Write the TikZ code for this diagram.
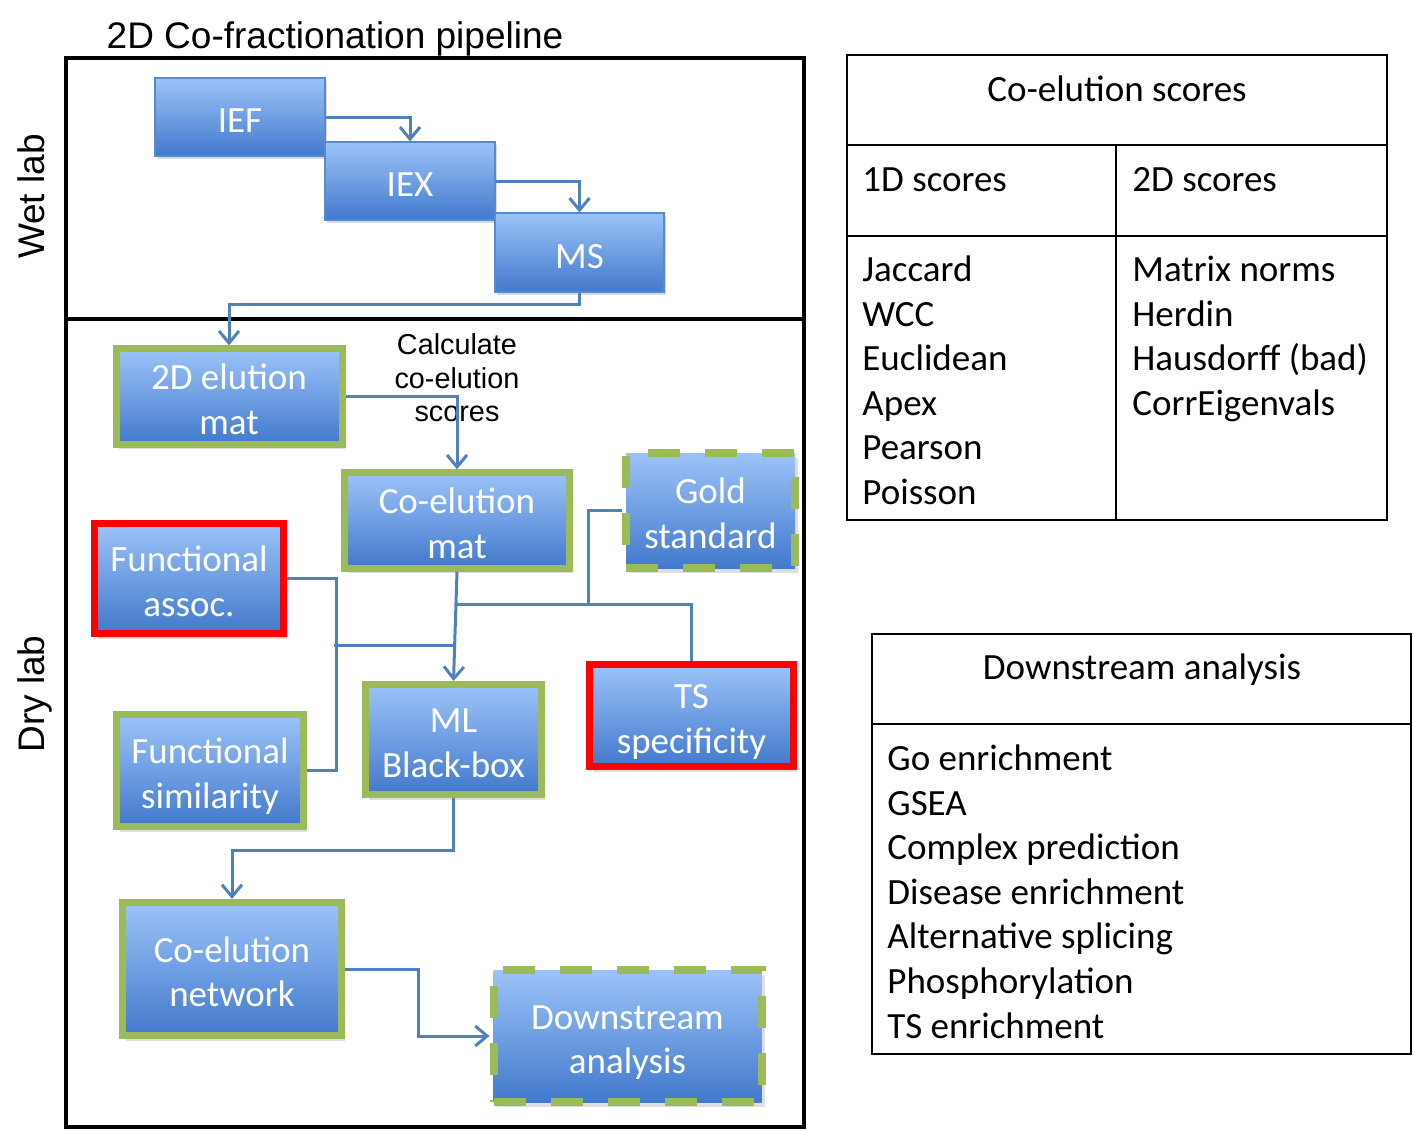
\documentclass[tikz,border=0pt]{standalone}
\usepackage{fontspec}
\setmainfont{Carlito}
\newfontfamily\arialf{Liberation Sans}
\usetikzlibrary{arrows.meta,shadows}
\definecolor{boxtop}{HTML}{9CC3F8}
\definecolor{boxbot}{HTML}{4279CC}
\definecolor{boxline}{HTML}{5A8AC8}
\definecolor{gborder}{HTML}{9BBB59}
\definecolor{rborder}{HTML}{FF0000}
\definecolor{linkblue}{HTML}{4F81BD}
\newcommand\ftop{\rule{0pt}{20.5pt}}
\tikzset{
  boxtext/.style={text=white, align=center, inner sep=0pt, font=\fontsize{18.5}{22.2}\selectfont,
     execute at end node={\rule[-5pt]{0pt}{0pt}}},
  wbox/.style={boxtext, rectangle, top color=boxtop, bottom color=boxbot, draw=boxline, line width=0.6pt,
     drop shadow={opacity=0.3, shadow xshift=1pt, shadow yshift=-1.5pt}},
  gbox/.style={boxtext, rectangle, top color=boxtop, bottom color=boxbot, draw=gborder, line width=3.5pt,
     drop shadow={opacity=0.25, shadow xshift=1.5pt, shadow yshift=-2.5pt}},
  rbox/.style={boxtext, rectangle, top color=boxtop, bottom color=boxbot, draw=rborder, line width=3.5pt,
     drop shadow={opacity=0.25, shadow xshift=1.5pt, shadow yshift=-2.5pt}},
  dbox/.style={boxtext, rectangle, top color=boxtop, bottom color=boxbot, draw=gborder, line width=4pt,
     dash pattern=on 16pt off 12.5pt,
     drop shadow={opacity=0.25, shadow xshift=1.5pt, shadow yshift=-2.5pt}},
  link/.style={draw=linkblue, line width=1.5pt},
  arr/.style={link, -{Straight Barb[length=6pt,width=10pt]}},
  frame/.style={draw=black, line width=1.8pt},
  tabline/.style={draw=black, line width=1pt},
  tabtxt/.style={inner sep=0pt, font=\fontsize{18.5}{22.3}\selectfont},
  artxt/.style={inner sep=0pt, font=\arialf\fontsize{18.5}{22}\selectfont}
}
\begin{document}
\begin{tikzpicture}[x=0.5pt,y=-0.5pt]
\useasboundingbox (0,0) rectangle (1413,1130);

% title and side labels
\node[artxt, anchor=base] (title) at (335,48) {2D Co-fractionation pipeline};
\node[artxt, rotate=90, anchor=base] (wetlab) at (44,196.5) {Wet lab};
\node[artxt, rotate=90, anchor=base] (drylab) at (44,694) {Dry lab};

% frames
\draw[frame] (66,58) rectangle (804,319);
\draw[frame] (66,319) rectangle (804,1127);

% wet lab boxes
\node[wbox, minimum width=85pt, minimum height=39pt] (IEF) at (240,117) {\ftop IEF};
\node[wbox, minimum width=85pt, minimum height=39pt] (IEX) at (410,181) {\ftop IEX};
\node[wbox, minimum width=84.5pt, minimum height=39.5pt] (MS) at (579.5,252.5) {\ftop MS};

% dry lab boxes
\node[gbox, minimum width=113pt, minimum height=46.5pt] (elu2d) at (229,396.5) {\ftop 2D elution\\mat};
\node[gbox, minimum width=112.5pt, minimum height=46pt] (coel) at (457,520.5) {\ftop Co-elution\\mat};
\node[dbox, minimum width=84.5pt, minimum height=57.5pt] (gold) at (710.5,510.5) {\ftop Gold\\standard};
\node[rbox, minimum width=94.5pt, minimum height=55pt] (fa) at (189,578.5) {\ftop Functional\\assoc.};
\node[gbox, minimum width=88pt, minimum height=55pt] (ml) at (453.5,739.5) {\ftop ML\\Black-box};
\node[rbox, minimum width=102pt, minimum height=51pt] (ts) at (691.5,715.5) {\ftop TS\\specificity};
\node[gbox, minimum width=93.5pt, minimum height=56pt] (fs) at (210,770.5) {\ftop Functional\\similarity};
\node[gbox, minimum width=109.5pt, minimum height=66.5pt] (net) at (232,969) {\ftop Co-elution\\network};
\node[dbox, minimum width=134pt, minimum height=66pt] (ds) at (627.5,1036) {\ftop Downstream\\analysis};

\node[inner sep=0pt, align=center, font=\arialf\fontsize{14.4}{16.75}\selectfont] (calc) at (457,378) {Calculate\\co-elution\\scores};

% connectors
\coordinate (jts) at (456,604);
\coordinate (jgold) at (588,604);
\coordinate (jfa) at (334,645);
\coordinate (jml) at (455,645);
\coordinate (jnet) at (418,969);

\draw[arr] (IEF.east) -| (IEX.north);
\draw[arr] (IEX.east) -| (MS.north);
\draw[arr] (MS.south) -- ++(0,12) -| (elu2d.north);
\draw[arr] (elu2d.east) -| (coel.north);
\draw[arr] (coel.south) -- (ml.north);
\draw[link] (jts) -| (ts.north);
\draw[link] (gold.west) -| (jgold);
\draw[link] (fa.east) -| ([xshift=14.5pt]fs.east) -- (fs.east);
\draw[link] (jfa) -- (jml);
\draw[arr] (ml.south) -- ++(0,52) -| (net.north);
\draw[arr] (net.east) -- (jnet) |- (ds.west);

% co-elution scores table
\draw[tabline] (847,55) rectangle (1387,520);
\draw[tabline] (847,145) -- (1387,145);
\draw[tabline] (847,236) -- (1387,236);
\draw[tabline] (1116,145) -- (1116,520);
\node[tabtxt, anchor=base] (cshead) at (1117,101.5) {Co-elution scores};
\node[tabtxt, anchor=base west] (h1d) at (862,191.5) {1D scores};
\node[tabtxt, anchor=base west] (h2d) at (1132,191.5) {2D scores};
\foreach \t [count=\i] in {Jaccard,WCC,Euclidean,Apex,Pearson,Poisson}
  \node[tabtxt, anchor=base west] (sa\i) at (862,{281.5+44.6*(\i-1)}) {\t};
\foreach \t [count=\i] in {Matrix norms,Herdin,{Hausdorff (bad)},CorrEigenvals}
  \node[tabtxt, anchor=base west] (sb\i) at (1132,{281.5+44.6*(\i-1)}) {\t};

% downstream analysis table
\draw[tabline] (872,634) rectangle (1411,1054);
\draw[tabline] (872,724) -- (1411,724);
\node[tabtxt, anchor=base] (dshead) at (1142,679.5) {Downstream analysis};
\foreach \t [count=\i] in {Go enrichment,GSEA,Complex prediction,Disease enrichment,Alternative splicing,Phosphorylation,TS enrichment}
  \node[tabtxt, anchor=base west] (da\i) at (887,{770.5+44.6*(\i-1)}) {\t};
\end{tikzpicture}
\end{document}
